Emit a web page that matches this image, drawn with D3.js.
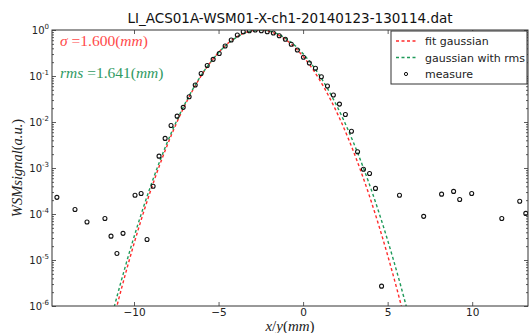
<!DOCTYPE html>
<html>
<head>
<meta charset="utf-8">
<script src="https://cdn.jsdelivr.net/npm/d3@7"></script>
<style>
  body { margin: 0; background: #fff; }
  text { font-family: "DejaVu Sans", sans-serif; }
  .math { font-family: "Liberation Serif", "DejaVu Serif", serif; }
</style>
</head>
<body>
<svg id="chart" width="529" height="333"></svg>
<script>
// measured points (x in mm, signal in a.u.)
const measureX = [-14.56, -13.49, -12.78, -11.72, -11.36, -11.01, -10.65, -9.94, -9.58,
  -9.23, -8.87, -8.52, -8.16, -7.81, -7.45, -7.09, -6.74, -6.38, -6.03, -5.67, -5.32,
  -4.96, -4.61, -4.25, -3.89, -3.54, -3.18, -2.83, -2.47, -2.12, -1.76, -1.41, -1.05,
  -0.70, -0.34, 0.02, 0.37, 0.73, 1.08, 1.44, 1.79, 2.15, 2.50, 2.86, 3.22, 3.57, 3.93,
  4.28, 4.64, 5.70, 7.13, 8.19, 8.90, 9.26, 9.97, 11.75, 12.81, 13.17];
const measureY = [2.3e-4, 1.25e-4, 6.7e-5, 8.0e-5, 3.3e-5, 1.38e-5, 3.8e-5, 2.56e-4, 2.79e-4,
  2.8e-5, 4.0e-4, 1.81e-3, 4.4e-3, 8.4e-3, 1.34e-2, 2.08e-2, 3.53e-2, 6.35e-2, 0.113,
  0.169, 0.230, 0.308, 0.449, 0.606, 0.778, 0.918, 0.966, 1.0, 0.966, 0.918, 0.86,
  0.751, 0.628, 0.489, 0.367, 0.255, 0.191, 0.147, 0.0964, 0.0604, 0.0385, 0.0245,
  0.0146, 6.3e-3, 2.25e-3, 9.4e-4, 7.6e-4, 3.6e-4, 2.7e-6, 2.56e-4, 8.9e-5, 2.7e-4,
  3.1e-4, 2.07e-4, 2.8e-4, 8.0e-5, 1.9e-4, 1.03e-4];

// gaussian models drawn from their fitted parameters
const curveNames = ["fit gaussian", "gaussian with rms"];
const curveMean = [-2.6, -2.53];
const curveSigma = [1.600, 1.641];
const curveAmp = [1.0, 1.0];
const curveColors = ["#ff2a2a", "#1f9a5a"];

const xTicks = [-10, -5, 0, 5, 10];
const yTicks = [1e-6, 1e-5, 1e-4, 1e-3, 1e-2, 1e-1, 1];
const yTickPowers = ["-6", "-5", "-4", "-3", "-2", "-1", "0"];
const title = "LI_ACS01A-WSM01-X-ch1-20140123-130114.dat";

const svg = d3.select("#chart");
const pLeft = 52, pRight = 528, pTop = 30, pBottom = 306;

const x = d3.scaleLinear().domain([-14.85, 13.3]).range([pLeft, pRight]);
const y = d3.scaleLog().domain([1e-6, 1]).range([pBottom, pTop]);

svg.append("clipPath").attr("id", "plotclip")
  .append("rect")
  .attr("x", pLeft).attr("y", pTop)
  .attr("width", pRight - pLeft).attr("height", pBottom - pTop);

const plot = svg.append("g").attr("clip-path", "url(#plotclip)");

// gaussian curves
const line = d3.line().x(d => x(d[0])).y(d => y(Math.max(d[1], 1e-9)));
curveNames.forEach((name, i) => {
  const pts = d3.range(-14.85, 13.31, 0.02).map(v =>
    [v, curveAmp[i] * Math.exp(-Math.pow(v - curveMean[i], 2) / (2 * curveSigma[i] * curveSigma[i]))]);
  plot.append("path")
    .datum(pts)
    .attr("fill", "none")
    .attr("stroke", curveColors[i])
    .attr("stroke-width", 1.4)
    .attr("stroke-dasharray", "3,2.5")
    .attr("d", line);
});

// measured points
plot.selectAll("circle.measure")
  .data(measureX.map((v, i) => [v, measureY[i]]))
  .enter()
  .append("circle")
  .attr("class", "measure")
  .attr("cx", d => x(d[0]))
  .attr("cy", d => y(d[1]))
  .attr("r", 2)
  .attr("fill", "none")
  .attr("stroke", "#111")
  .attr("stroke-width", 1.1);

// axes (ticks inside, on all four sides)
const tickLen = 4, minorLen = 2;
svg.append("g")
  .attr("transform", "translate(0," + pBottom + ")")
  .call(d3.axisBottom(x).tickValues(xTicks).tickSizeInner(-tickLen).tickSizeOuter(0)
    .tickPadding(3).tickFormat(d => d < 0 ? "\u2212" + Math.abs(d) : d))
  .call(g => g.select(".domain").remove())
  .selectAll("text").style("font-size", "10.5px").attr("fill", "#222");
svg.append("g")
  .attr("transform", "translate(0," + pTop + ")")
  .call(d3.axisTop(x).tickValues(xTicks).tickSizeInner(-tickLen).tickSizeOuter(0).tickFormat(""))
  .call(g => g.select(".domain").remove());

const minorY = [];
for (let p = -6; p < 0; p++) for (let m = 2; m < 10; m++) minorY.push(m * Math.pow(10, p));

svg.append("g")
  .attr("transform", "translate(" + pLeft + ",0)")
  .call(d3.axisLeft(y).tickValues(yTicks).tickSizeInner(-tickLen).tickSizeOuter(0).tickFormat(""))
  .call(g => g.select(".domain").remove());
svg.append("g")
  .attr("transform", "translate(" + pLeft + ",0)")
  .call(d3.axisLeft(y).tickValues(minorY).tickSizeInner(-minorLen).tickSizeOuter(0).tickFormat(""))
  .call(g => g.select(".domain").remove());
svg.append("g")
  .attr("transform", "translate(" + pRight + ",0)")
  .call(d3.axisRight(y).tickValues(yTicks).tickSizeInner(-tickLen).tickSizeOuter(0).tickFormat(""))
  .call(g => g.select(".domain").remove());
svg.append("g")
  .attr("transform", "translate(" + pRight + ",0)")
  .call(d3.axisRight(y).tickValues(minorY).tickSizeInner(-minorLen).tickSizeOuter(0).tickFormat(""))
  .call(g => g.select(".domain").remove());

// y tick labels as 10^n
yTicks.forEach((t, i) => {
  const lab = svg.append("text")
    .attr("x", pLeft - 3)
    .attr("y", y(t) + 4)
    .attr("text-anchor", "end")
    .style("font-size", "10px")
    .attr("fill", "#222");
  lab.append("tspan").text("10");
  lab.append("tspan").attr("dy", -5).style("font-size", "7px").text(yTickPowers[i]);
});

svg.selectAll(".tick line").attr("stroke", "#333").attr("stroke-width", 0.8);

// frame
svg.append("rect")
  .attr("x", pLeft).attr("y", pTop)
  .attr("width", pRight - pLeft).attr("height", pBottom - pTop)
  .attr("fill", "none").attr("stroke", "#333").attr("stroke-width", 1);

// title
svg.append("text")
  .attr("x", (pLeft + pRight) / 2)
  .attr("y", 23)
  .attr("text-anchor", "middle")
  .style("font-size", "13.5px")
  .attr("fill", "#111")
  .text(title);

// axis labels
const xl = svg.append("text").attr("class", "math")
  .attr("x", (pLeft + pRight) / 2).attr("y", 331)
  .attr("text-anchor", "middle").style("font-size", "15px").attr("fill", "#222");
xl.append("tspan").style("font-style", "italic").text("x");
xl.append("tspan").text("/");
xl.append("tspan").style("font-style", "italic").text("y");
xl.append("tspan").text("(");
xl.append("tspan").style("font-style", "italic").text("mm");
xl.append("tspan").text(")");

const yl = svg.append("text").attr("class", "math")
  .attr("transform", "translate(22," + ((pTop + pBottom) / 2) + ") rotate(-90)")
  .attr("text-anchor", "middle").style("font-size", "14.5px").attr("fill", "#222");
yl.append("tspan").style("font-style", "italic").text("WSMsignal");
yl.append("tspan").text("(");
yl.append("tspan").style("font-style", "italic").text("a.u.");
yl.append("tspan").text(")");

// annotations
function annot(yPos, sym, val, color) {
  const t = svg.append("text").attr("class", "math")
    .attr("x", 60).attr("y", yPos)
    .style("font-size", "15.5px").attr("fill", color);
  t.append("tspan").style("font-style", "italic").text(sym);
  t.append("tspan").text(" =" + val + "(");
  t.append("tspan").style("font-style", "italic").text("mm");
  t.append("tspan").text(")");
}
annot(46, "\u03c3", curveSigma[0].toFixed(3), "#ff4a4a");
annot(78, "rms", curveSigma[1].toFixed(3), "#2f9a62");

// legend
const lg = svg.append("g").attr("transform", "translate(391,31)");
lg.append("rect").attr("width", 136).attr("height", 53)
  .attr("fill", "#fff").attr("stroke", "#333").attr("stroke-width", 1);
curveNames.forEach((name, i) => {
  const yy = 10 + i * 16.5;
  lg.append("line").attr("x1", 5).attr("x2", 26).attr("y1", yy).attr("y2", yy)
    .attr("stroke", curveColors[i]).attr("stroke-width", 1.4).attr("stroke-dasharray", "3,2.5");
  lg.append("text").attr("x", 34).attr("y", yy + 4)
    .style("font-size", "11px").attr("fill", "#222").text(name);
});
lg.append("circle").attr("cx", 15).attr("cy", 43).attr("r", 1.6)
  .attr("fill", "none").attr("stroke", "#111").attr("stroke-width", 1);
lg.append("text").attr("x", 34).attr("y", 47)
  .style("font-size", "11px").attr("fill", "#222").text("measure");
</script>
</body>
</html>
